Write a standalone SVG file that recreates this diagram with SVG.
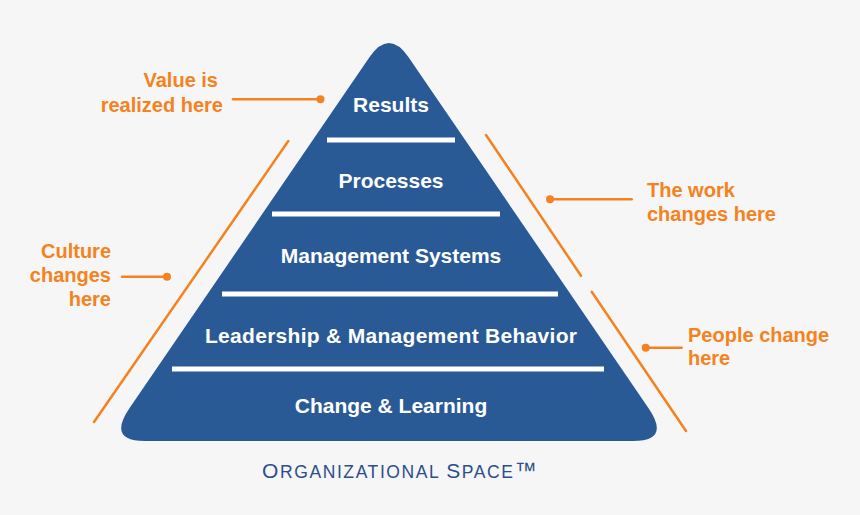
<svg xmlns="http://www.w3.org/2000/svg" width="860" height="515" viewBox="0 0 860 515">
<style>
.lvl{font-family:"Liberation Sans",Arial,sans-serif;font-weight:bold;font-size:21px;fill:#ffffff;text-anchor:middle}
.lbl{font-family:"Liberation Sans",Arial,sans-serif;font-weight:bold;font-size:20px;fill:#F58220}
.bar{fill:#ffffff}
.ol{stroke:#F58220;stroke-width:2.5;fill:none;stroke-linecap:round}
.dot{fill:#F58220}
.cap{font-family:"Liberation Sans",Arial,sans-serif;fill:#2B4F8C;letter-spacing:1.6px}
</style>
<rect width="860" height="515" fill="#F6F6F6"/>
<g id="pyramid">
<path d="M369.6,57 Q389,29 408.4,57 L648.4,408 Q671,441 633,441 L145,441 Q107,441 129.6,408 Z" fill="#2A5A96"/>
<rect class="bar" x="327" y="137.5" width="128" height="5"/>
<rect class="bar" x="272" y="211.5" width="228" height="5"/>
<rect class="bar" x="222" y="291.5" width="336" height="5"/>
<rect class="bar" x="172" y="366.5" width="432" height="5"/>
</g>
<g id="results"><text class="lvl" x="391" y="112">Results</text></g>
<g id="processes"><text class="lvl" x="391" y="188">Processes</text></g>
<g id="management-systems"><text class="lvl" x="391" y="263">Management Systems</text></g>
<g id="leadership"><text class="lvl" x="391" y="343" textLength="372">Leadership &amp; Management Behavior</text></g>
<g id="change-learning"><text class="lvl" x="391" y="413">Change &amp; Learning</text></g>
<g id="connectors">
<line class="ol" x1="233" y1="99.3" x2="320" y2="99.3"/>
<circle class="dot" cx="320.5" cy="99.3" r="4"/>
<line class="ol" x1="122" y1="276.7" x2="166.5" y2="276.7"/>
<circle class="dot" cx="167" cy="276.7" r="4"/>
<line class="ol" x1="550" y1="199.3" x2="631.7" y2="199.3"/>
<circle class="dot" cx="550" cy="199.3" r="4"/>
<line class="ol" x1="645.7" y1="347.7" x2="681.7" y2="347.7"/>
<circle class="dot" cx="645.7" cy="347.7" r="4"/>
<line class="ol" x1="288.3" y1="141" x2="94" y2="422"/>
<line class="ol" x1="486" y1="135" x2="581" y2="275.7"/>
<line class="ol" x1="591.7" y1="291.7" x2="686" y2="431"/>
</g>
<g id="label-value">
<text class="lbl" x="218" y="87.3" text-anchor="end">Value is</text>
<text class="lbl" x="223" y="111.7" text-anchor="end">realized here</text>
</g>
<g id="label-culture">
<text class="lbl" x="111" y="257.5" text-anchor="end">Culture</text>
<text class="lbl" x="111" y="282" text-anchor="end">changes</text>
<text class="lbl" x="111" y="306" text-anchor="end">here</text>
</g>
<g id="label-work">
<text class="lbl" x="647" y="196.7">The work</text>
<text class="lbl" x="647" y="220.7">changes here</text>
</g>
<g id="label-people">
<text class="lbl" x="688" y="341.7">People change</text>
<text class="lbl" x="688" y="365">here</text>
</g>
<g id="caption">
<text class="cap" x="262" y="478"><tspan font-size="21">O</tspan><tspan font-size="17.5">RGANIZATIONAL </tspan><tspan font-size="21">S</tspan><tspan font-size="17.5">PACE</tspan><tspan font-size="22">™</tspan></text>
</g>
</svg>
